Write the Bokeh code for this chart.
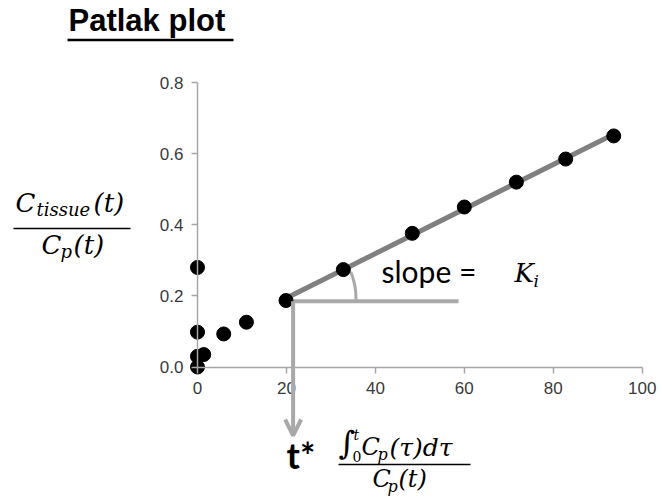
from bokeh.plotting import figure
from bokeh.models import Range1d, FixedTicker, NumeralTickFormatter, Arrow, OpenHead
from bokeh.core.properties import value
from bokeh.embed import file_html
from bokeh.resources import INLINE
import numpy as np

# Patlak plot: C_tissue/C_p against normalised time integral of C_p
patlak_x = [0.0, 0.0, 0.0, 1.4, 0.0, 5.9, 11.0, 19.9, 32.8, 48.3, 60.0, 71.7, 82.8, 93.6]
patlak_y = [0.0, 0.03, 0.098, 0.035, 0.28, 0.093, 0.126, 0.187, 0.274, 0.376, 0.450, 0.520, 0.585, 0.650]
t_star = 19.9

x_ticks = [0, 20, 40, 60, 80, 100]
y_ticks = [0.0, 0.2, 0.4, 0.6, 0.8]

# The frame spans the whole canvas; axes sit at the data origin so that
# the labels and annotations around them are drawn inside the frame.
W, H = 661, 503
ORIGIN_PX, ORIGIN_PY = 197.0, 366.5
PX_PER_X, PX_PER_Y = 4.447, 355.5
X0, X1 = -ORIGIN_PX / PX_PER_X, (W - ORIGIN_PX) / PX_PER_X
Y0, Y1 = -(H - ORIGIN_PY) / PX_PER_Y, ORIGIN_PY / PX_PER_Y


def px_x(px):
    return (px - ORIGIN_PX) / PX_PER_X


def px_y(py):
    return (ORIGIN_PY - py) / PX_PER_Y


p = figure(width=W, height=H, x_range=Range1d(X0, X1), y_range=Range1d(Y0, Y1),
           output_backend="svg", toolbar_location=None, title=None,
           min_border=0, min_border_left=0, min_border_right=0,
           min_border_top=0, min_border_bottom=0)
p.outline_line_color = None
p.grid.visible = False
p.background_fill_color = "white"
p.border_fill_color = "white"

AXIS_GREY = "#a6a6a6"
for ax in (p.xaxis[0], p.yaxis[0]):
    ax.fixed_location = 0
    ax.axis_line_color = AXIS_GREY
    ax.axis_line_width = 1.5
    ax.major_tick_line_color = AXIS_GREY
    ax.major_tick_line_width = 1.5
    ax.major_tick_in = 0
    ax.major_tick_out = 6
    ax.minor_tick_line_color = None
    ax.major_label_text_font = "Liberation Sans"
    ax.major_label_text_font_size = "17px"
    ax.major_label_text_color = "#3a3a3a"

p.xaxis.ticker = FixedTicker(ticks=x_ticks)
p.xaxis.bounds = (0, 100)
p.xaxis.major_label_standoff = 9
p.yaxis.ticker = FixedTicker(ticks=y_ticks)
p.yaxis.formatter = NumeralTickFormatter(format="0.0")
p.yaxis.bounds = (0, 0.8)
p.yaxis.major_label_standoff = 8

# linear phase fit (slope = Ki)
xs = np.array(patlak_x)
ys = np.array(patlak_y)
late = xs >= t_star
k_i, intercept = np.polyfit(xs[late], ys[late], 1)
fit_x = [t_star, xs[late].max()]
fit_y = [k_i * v + intercept for v in fit_x]
p.line(fit_x, fit_y, line_color="#808080", line_width=5)

# slope construction: horizontal reference and angle arc
LIGHT_GREY = "#a9a9a9"
corner_x = t_star + 1.6
corner_y = fit_y[0] - 0.008
p.segment(x0=[corner_x], y0=[corner_y], x1=[58.7], y1=[corner_y],
          line_color=LIGHT_GREY, line_width=4)
p.arc(x=[t_star], y=[fit_y[0]], radius=70, radius_units="screen",
      start_angle=-0.03, end_angle=0.39, line_color=LIGHT_GREY, line_width=3)

p.scatter(patlak_x, patlak_y, size=14, color="black")

# t* arrow dropping below the x axis
p.add_layout(Arrow(x_start=corner_x, y_start=corner_y, x_end=corner_x, y_end=px_y(435),
                   line_color=LIGHT_GREY, line_width=4,
                   end=OpenHead(size=16, line_color=LIGHT_GREY, line_width=4)))

# the text glyph sits its alphabetic anchor a little low; lift it back onto the baseline
BASELINE_LIFT = 0.42


def text(px, py, s, size, font="DejaVu Serif", style="italic", color="black"):
    p.text(x=[px_x(px)], y=[px_y(py - BASELINE_LIFT * size)], text=[s], text_font=value(font),
           text_font_style=style, text_font_size=value(f"{size}px"),
           text_color=color, text_align="left", text_baseline="alphabetic")


def rule(x_a, x_b, py, width=1.5, color="black"):
    p.segment(x0=[px_x(x_a)], y0=[px_y(py)], x1=[px_x(x_b)], y1=[px_y(py)],
              line_color=color, line_width=width)


# title
text(68, 33, "Patlak plot", 31, font="Liberation Sans", style="bold")
rule(67, 233, 39.5, width=2.5)

# y label: C_tissue(t) / C_p(t)
text(15, 213, "C", 26)
text(36, 217, "tissue", 18)
text(93, 213, "(t)", 26)
rule(13, 130, 228)
text(41, 255, "C", 26)
text(60, 259, "p", 18)
text(73, 255, "(t)", 26)

# x label: integral of C_p over C_p(t)
text(338, 456, "\u222B", 32, style="normal")
text(353, 440, "t", 14)
text(352, 462, "0", 14, style="normal")
text(361, 457, "C", 24)
text(377, 461, "p", 16)
text(389, 457, "(\u03C4)d\u03C4", 25)
rule(338, 470, 464)
text(372, 489, "C", 24)
text(387, 493, "p", 16)
text(398, 489, "(t)", 24)

# t*
text(286, 470, "t*", 36, font="Lato", style="bold")

# slope annotation
text(381, 283, "slope =", 30, font="Lato", style="normal")
text(514, 283, "K", 26)
text(533, 288, "i", 17)

open("out.html", "w").write(file_html(p, INLINE))
